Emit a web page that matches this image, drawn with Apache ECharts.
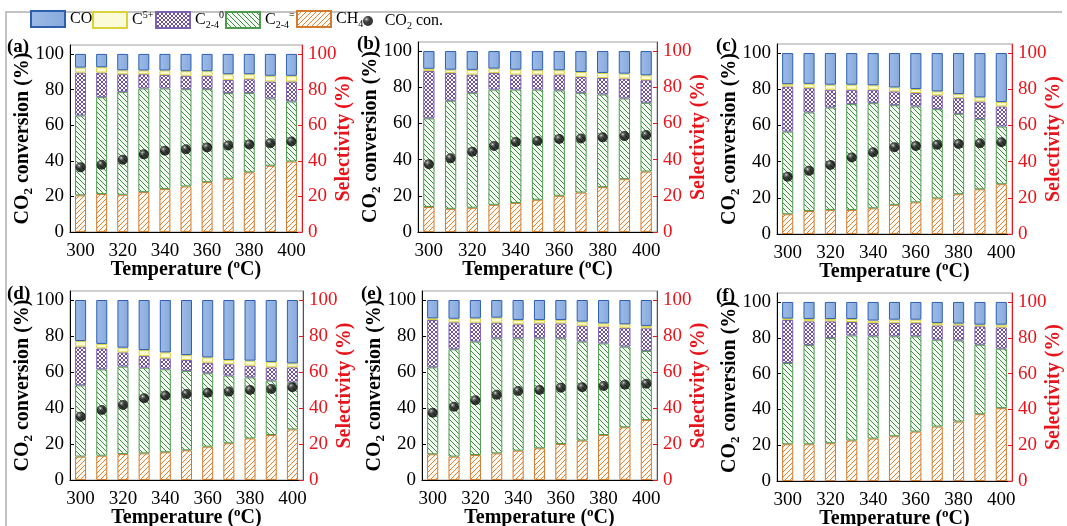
<!DOCTYPE html>
<html><head><meta charset="utf-8">
<script src="https://cdn.jsdelivr.net/npm/echarts@6/dist/echarts.min.js"></script>
<style>html,body{margin:0;padding:0;background:#fff}#c{width:1067px;height:526px}</style>
</head><body><div id="c"></div>
<script>
// ---------- data ----------
const temps = ['300','310','320','330','340','350','360','370','380','390','400'];
const panelLabels = ['(a)','(b)','(c)','(d)','(e)','(f)'];

// (a)
const ch4A   = [20.6, 21.3, 20.9, 22.4, 24.1, 25.6, 28.0, 29.9, 33.5, 37.2, 39.6];
const c24eA  = [44.8, 54.4, 57.8, 58.2, 56.5, 54.6, 52.2, 48.1, 44.5, 37.8, 33.7];
const c24oA  = [24.1, 13.8, 9.9, 8.0, 7.6, 7.5, 7.5, 7.4, 7.8, 9.5, 11.2];
const c5A    = [2.8, 3.0, 2.2, 2.1, 2.5, 2.6, 2.6, 3.2, 2.8, 3.2, 3.2];
const coA    = [7.7, 7.5, 9.2, 9.3, 9.3, 9.7, 9.7, 11.4, 11.4, 12.3, 12.3];
const convA  = [36.3, 37.8, 40.6, 43.6, 45.6, 46.5, 47.5, 48.6, 49.2, 49.9, 50.8];
// (b)
const ch4B   = [13.8, 12.8, 13.4, 15.0, 16.0, 17.8, 20.0, 21.8, 24.8, 29.2, 33.4];
const c24eB  = [49.0, 59.7, 63.5, 63.7, 62.7, 60.9, 58.3, 55.1, 51.2, 44.6, 38.0];
const c24oB  = [26.2, 15.4, 10.1, 9.2, 8.3, 8.3, 8.7, 8.8, 9.1, 11.0, 12.5];
const c5B    = [1.2, 1.8, 2.6, 2.4, 2.7, 2.4, 2.4, 2.7, 2.8, 2.7, 2.7];
const coB    = [9.8, 10.3, 10.4, 9.7, 10.3, 10.6, 10.6, 11.6, 12.1, 12.5, 13.4];
const convB  = [37.4, 40.7, 44.4, 47.5, 49.7, 50.3, 51.4, 51.7, 52.3, 53.0, 53.6];
// (c)
const ch4C   = [10.9, 12.7, 13.3, 13.3, 14.2, 16.1, 17.5, 19.7, 22.0, 24.7, 27.5];
const c24eC  = [45.7, 54.5, 56.6, 58.5, 58.1, 55.1, 53.0, 49.3, 44.4, 38.8, 31.9];
const c24oC  = [24.9, 13.4, 9.8, 7.9, 7.4, 7.6, 7.4, 7.6, 8.7, 9.7, 11.1];
const c5C    = [1.3, 2.4, 2.8, 2.8, 2.5, 2.2, 2.2, 2.2, 2.2, 2.3, 2.4];
const coC    = [17.2, 17.0, 17.5, 17.5, 17.8, 19.0, 19.9, 21.2, 22.7, 24.5, 27.1];
const convC  = [31.7, 34.9, 38.2, 42.3, 45.2, 48.0, 48.7, 49.3, 49.8, 50.2, 50.7];
// (d)
const ch4D   = [13.0, 13.5, 14.4, 14.8, 15.4, 16.5, 18.5, 20.4, 23.1, 25.0, 28.1];
const c24eD  = [39.6, 48.0, 48.6, 47.6, 46.1, 44.1, 40.8, 37.6, 33.9, 30.2, 26.0];
const c24oD  = [21.5, 11.6, 7.9, 6.5, 6.1, 6.1, 5.9, 6.3, 6.5, 7.4, 8.5];
const c5D    = [3.1, 2.5, 2.6, 3.3, 3.3, 2.7, 2.9, 2.4, 2.8, 3.0, 2.2];
const coD    = [22.8, 24.4, 26.5, 27.8, 29.1, 30.6, 31.9, 33.3, 33.7, 34.4, 35.2];
const convD  = [35.2, 38.9, 41.7, 45.4, 46.9, 47.8, 48.5, 49.1, 50.0, 50.6, 51.5];
// (e)
const ch4E   = [14.3, 13.0, 13.9, 14.8, 16.3, 17.6, 20.0, 21.9, 25.0, 29.3, 33.3];
const c24eE  = [48.3, 59.6, 63.0, 63.9, 62.4, 61.1, 58.7, 55.0, 50.9, 44.8, 38.4];
const c24oE  = [26.3, 15.0, 10.5, 8.7, 7.8, 8.3, 8.3, 8.8, 9.3, 10.5, 12.6];
const c5E    = [0.9, 2.0, 2.4, 2.8, 2.4, 1.9, 1.9, 2.3, 1.8, 1.9, 1.3];
const coE    = [10.2, 10.4, 10.2, 9.8, 11.1, 11.1, 11.1, 12.0, 13.0, 13.5, 14.4];
const convE  = [37.4, 40.7, 44.3, 47.4, 49.4, 50.0, 51.3, 51.5, 52.2, 53.0, 53.5];
// (f)
const ch4F   = [20.5, 20.5, 21.1, 22.6, 23.7, 25.0, 27.6, 30.4, 33.2, 37.3, 40.7];
const c24eF  = [45.4, 55.4, 58.8, 58.7, 57.1, 55.8, 53.2, 48.5, 45.3, 38.8, 33.2];
const c24oF  = [24.0, 13.3, 9.3, 7.5, 7.4, 7.4, 7.4, 8.0, 8.4, 10.3, 11.9];
const c5F    = [0.8, 1.3, 1.3, 1.7, 1.4, 1.9, 1.9, 1.3, 1.0, 0.9, 1.5];
const coF    = [9.3, 9.5, 9.5, 9.5, 10.4, 9.9, 9.9, 11.8, 12.1, 12.7, 12.7];
const convF  = null;

const yTicks = [0, 20, 40, 60, 80, 100];

// ---------- chart ----------
const FONT = 'Liberation Serif';
const RED = '#e8141b';
const panels = [
  {co: coA, c5: c5A, o: c24oA, e: c24eA, ch4: ch4A, conv: convA},
  {co: coB, c5: c5B, o: c24oB, e: c24eB, ch4: ch4B, conv: convB},
  {co: coC, c5: c5C, o: c24oC, e: c24eC, ch4: ch4C, conv: convC},
  {co: coD, c5: c5D, o: c24oD, e: c24eD, ch4: ch4D, conv: convD},
  {co: coE, c5: c5E, o: c24oE, e: c24eE, ch4: ch4E, conv: convE},
  {co: coF, c5: c5F, o: c24oF, e: c24eF, ch4: ch4F, conv: convF}
];
const gridPos = [
  {left: 70,  top: 45,  width: 232, height: 187},
  {left: 418, top: 42,  width: 239, height: 190},
  {left: 777, top: 44,  width: 235, height: 190},
  {left: 70,  top: 291, width: 233, height: 189},
  {left: 422, top: 291, width: 235, height: 189},
  {left: 777, top: 293, width: 235, height: 188}
];
const labelPos = [
  {left: 7, top: 38}, {left: 357, top: 35}, {left: 716, top: 37},
  {left: 7, top: 285}, {left: 361, top: 285}, {left: 716, top: 287}
];

// hatch tiles drawn explicitly so the stroke direction is exact
function hatchTile(bg, fg, dirs, size, lw) {
  const c = document.createElement('canvas');
  c.width = size; c.height = size;
  const g = c.getContext('2d');
  g.fillStyle = bg; g.fillRect(0, 0, size, size);
  g.strokeStyle = fg; g.lineWidth = lw;
  dirs.forEach(d => {
    g.beginPath();
    for (let k = -1; k <= 1; k++) {
      if (d === '/') { g.moveTo(k * size - 1, size + 1); g.lineTo(k * size + size + 1, -1); }
      else { g.moveTo(k * size - 1, -1); g.lineTo(k * size + size + 1, size + 1); }
    }
    g.stroke();
  });
  return {image: c, repeat: 'repeat'};
}
const ch4Fill = hatchTile('#fffaf3', '#d7843c', ['/'], 5, 1);
const greenFill = hatchTile('#f3f9f3', '#3f8c3f', ['\\'], 5, 1);
const purpleFill = hatchTile('#ffffff', '#6e529f', ['/', '\\'], 4, 1);

const dotColor = {type: 'radial', x: 0.35, y: 0.32, r: 0.7,
  colorStops: [{offset: 0, color: '#e8e8e8'}, {offset: 0.18, color: '#555'}, {offset: 0.45, color: '#0a0a0a'}, {offset: 1, color: '#000'}]};

const axisNameRich = {
  b: {fontFamily: FONT, fontSize: 20, fontWeight: 'bold', color: '#000', lineHeight: 24},
  s: {fontFamily: FONT, fontSize: 13, fontWeight: 'bold', color: '#000', lineHeight: 12, verticalAlign: 'bottom'},
  p: {fontFamily: FONT, fontSize: 13, fontWeight: 'bold', color: '#000', lineHeight: 12, verticalAlign: 'top'}
};

const grid = [], xAxis = [], yAxis = [], series = [], title = [];
panels.forEach((p, i) => {
  grid.push(Object.assign({show: true, borderColor: '#a0a0a0', borderWidth: 1, backgroundColor: 'transparent', outerBoundsMode: 'none', containLabel: false}, gridPos[i]));
  title.push(Object.assign({text: panelLabels[i], textStyle: {fontFamily: FONT, fontSize: 19, fontWeight: 'bold', color: '#000'}, padding: 0}, labelPos[i]));
  xAxis.push({
    type: 'category', gridIndex: i, data: temps,
    axisLine: {lineStyle: {color: '#000', width: 1}},
    axisTick: {show: true, inside: true, length: 4, alignWithLabel: true, lineStyle: {color: '#000'}},
    axisLabel: {interval: 1, fontFamily: FONT, fontSize: 19, color: '#000', margin: 10},
    name: '{b|Temperature (}{p|o}{b|C)}', nameLocation: 'middle', nameGap: 26, nameMoveOverlap: false,
    nameTextStyle: {rich: axisNameRich}
  });
  yAxis.push({
    type: 'value', gridIndex: i, min: 0, max: 105, interval: 20, position: 'left',
    splitLine: {show: false},
    axisLine: {show: true, lineStyle: {color: '#000'}},
    axisTick: {show: true, inside: true, length: 4, lineStyle: {color: '#000'}},
    axisLabel: {fontFamily: FONT, fontSize: 19, color: '#000', margin: 6, showMaxLabel: false,
      formatter: v => yTicks.indexOf(v) >= 0 ? String(v) : ''},
    name: '{b|CO}{s|2}{b| conversion (%)}', nameLocation: 'middle', nameGap: 35, nameRotate: 90, nameMoveOverlap: false,
    nameTextStyle: {rich: axisNameRich}
  });
  yAxis.push({
    type: 'value', gridIndex: i, min: 0, max: 105, interval: 20, position: 'right',
    splitLine: {show: false},
    axisLine: {show: true, lineStyle: {color: RED}},
    axisTick: {show: true, inside: true, length: 4, lineStyle: {color: RED}},
    axisLabel: {fontFamily: FONT, fontSize: 19, color: RED, margin: 6, showMaxLabel: false,
      formatter: v => yTicks.indexOf(v) >= 0 ? String(v) : ''},
    name: 'Selectivity (%)', nameLocation: 'middle', nameGap: 30, nameRotate: 90, nameMoveOverlap: false,
    nameTextStyle: {fontFamily: FONT, fontSize: 20, fontWeight: 'bold', color: RED, lineHeight: 24}
  });
  const st = 'st' + i;
  const base = {type: 'bar', xAxisIndex: i, yAxisIndex: 2 * i + 1, stack: st, barWidth: '52%'};
  series.push(Object.assign({}, base, {name: 'CH4', data: p.ch4,
    itemStyle: {color: ch4Fill, borderColor: '#d27a2e', borderWidth: 1}}));
  series.push(Object.assign({}, base, {name: 'C2-4=', data: p.e,
    itemStyle: {color: greenFill, borderColor: '#4f9a4f', borderWidth: 1}}));
  series.push(Object.assign({}, base, {name: 'C2-40', data: p.o,
    itemStyle: {color: purpleFill, borderColor: '#7d62ad', borderWidth: 1}}));
  series.push(Object.assign({}, base, {name: 'C5+', data: p.c5,
    itemStyle: {color: '#fbfbd8', borderColor: '#d9d23a', borderWidth: 1}}));
  series.push(Object.assign({}, base, {name: 'CO', data: p.co,
    itemStyle: {color: {type: 'linear', x: 0, y: 0, x2: 1, y2: 0, colorStops: [{offset: 0, color: '#9dbbe8'}, {offset: 1, color: '#87aadc'}]},
      borderColor: '#2e5fae', borderWidth: 1}}));
  if (p.conv) {
    series.push({type: 'scatter', name: 'CO2 con.', xAxisIndex: i, yAxisIndex: 2 * i, data: p.conv,
      symbol: 'circle', symbolSize: 10, z: 5, itemStyle: {color: dotColor}});
  }
});

const legendRich = {
  n: {fontFamily: FONT, fontSize: 16, color: '#000', lineHeight: 20},
  sup: {fontFamily: FONT, fontSize: 10, color: '#000', lineHeight: 10, verticalAlign: 'top'},
  sub: {fontFamily: FONT, fontSize: 10, color: '#000', lineHeight: 10, verticalAlign: 'bottom'}
};
const legendNames = ['CO', 'C5+', 'C2-40', 'C2-4=', 'CH4', 'CO2 con.'];
const legendText = {
  'CO': '{n|CO}',
  'C5+': '{n|C}{sup|5+}',
  'C2-40': '{n|C}{sub|2-4}{sup|0}',
  'C2-4=': '{n|C}{sub|2-4}{sup|=}',
  'CH4': '{n|CH}{sub|4}',
  'CO2 con.': '  {n|CO}{sub|2}{n| con.}'
};
const legendLeft = [30, 92, 155, 225, 296, 363];
const legend = legendNames.map((n, k) => {
  const isDot = n === 'CO2 con.';
  return {left: legendLeft[k], top: isDot ? 13 : 10, padding: 0,
    itemWidth: isDot ? 10 : 34, itemHeight: isDot ? 10 : 16,
    icon: isDot ? 'circle' : 'rect', selectedMode: false, data: [n],
    formatter: x => legendText[x], textStyle: {rich: legendRich}};
});

const option = {
  animation: false,
  backgroundColor: '#fff',
  title: title,
  legend: legend,
  grid: grid, xAxis: xAxis, yAxis: yAxis, series: series,
  graphic: [{type: 'polyline', shape: {points: [[6, 526], [6, 12], [1062, 12]]}, style: {stroke: '#b0b0b0', lineWidth: 1.5, fill: null}, silent: true}]
};
const chart = echarts.init(document.getElementById('c'), null, {renderer: 'canvas'});
chart.setOption(option);
</script></body></html>
